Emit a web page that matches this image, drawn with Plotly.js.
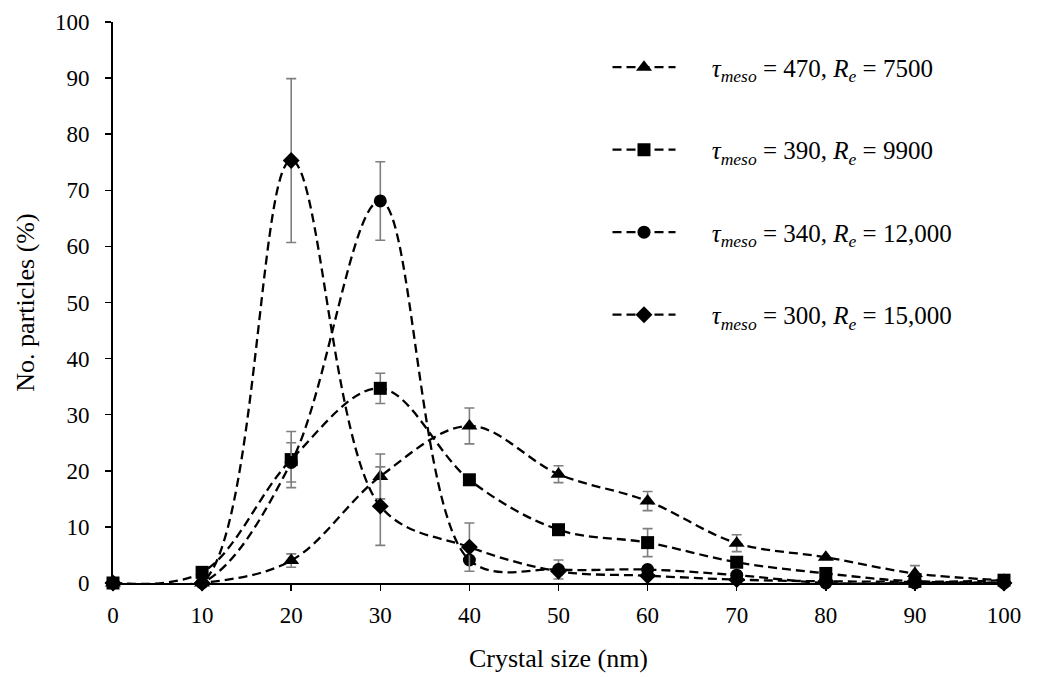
<!DOCTYPE html>
<html>
<head>
<meta charset="utf-8">
<script src="https://cdn.plot.ly/plotly-3.0.1.min.js"></script>
<style>html,body{margin:0;padding:0;background:#fff;}</style>
</head>
<body>
<div id="chart" style="width:1061px;height:677px;"></div>
<script>
const crystalSize = [0, 10, 20, 30, 40, 50, 60, 70, 80, 90, 100];

const pad = "&nbsp;&nbsp;&nbsp;&nbsp;&nbsp;";
const seriesNames = [
  pad + "<i>τ</i><sub><i>meso</i></sub> = 470, <i>R</i><sub><i>e</i></sub> = 7500",
  pad + "<i>τ</i><sub><i>meso</i></sub> = 390, <i>R</i><sub><i>e</i></sub> = 9900",
  pad + "<i>τ</i><sub><i>meso</i></sub> = 340, <i>R</i><sub><i>e</i></sub> = 12,000",
  pad + "<i>τ</i><sub><i>meso</i></sub> = 300, <i>R</i><sub><i>e</i></sub> = 15,000"
];

const tau470 = [0, 0, 4, 19, 28, 19.4, 14.6, 7.1, 4.6, 1.7, 0.5];
const tau390 = [0, 1.9, 22, 34.7, 18.4, 9.5, 7.2, 3.7, 1.7, 0.3, 0.5];
const tau340 = [0, 0, 21.5, 68.1, 4.1, 2.4, 2.4, 1.4, 0, 0, 0];
const tau300 = [0, 0, 75.3, 13.7, 6.4, 2.1, 1.3, 0.6, 0.3, 0.2, 0];

const err470 = [0, 0, 1.2, 4, 3.2, 1.5, 1.7, 1.5, 0, 1.4, 0];
const err390 = [0, 0, 5, 2.7, 0, 0, 2.5, 0, 0, 0, 0];
const err340 = [0, 0, 3.5, 7, 0, 1.7, 0, 0, 0, 0, 0];
const err300 = [0, 0, 14.6, 7, 4.3, 0, 0, 0, 0, 0, 0];

const symbols = ["triangle-up", "square", "circle", "diamond"];
const markerSizes = [14, 13, 13, 13];
const values = [tau470, tau390, tau340, tau300];
const errors = [err470, err390, err340, err300];

const traces = values.map((v, i) => ({
  x: crystalSize,
  y: v,
  name: seriesNames[i],
  legendgroup: "g" + i,
  type: "scatter",
  mode: "lines+markers",
  line: {color: "#000", width: 2.3, dash: "9px,5px", shape: "spline", smoothing: 1},
  marker: {symbol: symbols[i], size: markerSizes[i], color: "#000"},
  error_y: {type: "data", array: errors[i], visible: true, color: "#7f7f7f", thickness: 1.6, width: 5},
  cliponaxis: false
}));

const font = "'Liberation Serif', 'Times New Roman', serif";

const layout = {
  width: 1061,
  height: 677,
  margin: {l: 113, r: 57, t: 22, b: 94},
  paper_bgcolor: "#fff",
  plot_bgcolor: "#fff",
  font: {family: font, color: "#000", size: 23},
  showlegend: true,
  legend: {
    x: 0.555, y: 0.96, xanchor: "left", yanchor: "top",
    font: {family: font, size: 25, color: "#000"},
    tracegroupgap: 47,
    itemwidth: 63,
    bgcolor: "rgba(0,0,0,0)"
  },
  xaxis: {
    range: [0, 100],
    tickvals: crystalSize,
    showgrid: false,
    zeroline: false,
    showline: true,
    linecolor: "#000",
    linewidth: 2,
    ticks: "outside",
    ticklen: 6,
    tickwidth: 1.5,
    tickcolor: "#000",
    ticklabelstandoff: 4,
    tickfont: {family: font, size: 23},
    title: {text: "Crystal size (nm)", font: {family: font, size: 26}, standoff: 22}
  },
  yaxis: {
    range: [0, 100],
    dtick: 10,
    showgrid: false,
    zeroline: false,
    showline: true,
    linecolor: "#000",
    linewidth: 2,
    ticks: "outside",
    ticklen: 6,
    tickwidth: 1.5,
    tickcolor: "#000",
    ticklabelstandoff: 11,
    tickfont: {family: font, size: 23},
    title: {text: "No. particles (%)", font: {family: font, size: 26}, standoff: 13}
  }
};

Plotly.newPlot("chart", traces, layout, {displayModeBar: false, staticPlot: true});
</script>
</body>
</html>
